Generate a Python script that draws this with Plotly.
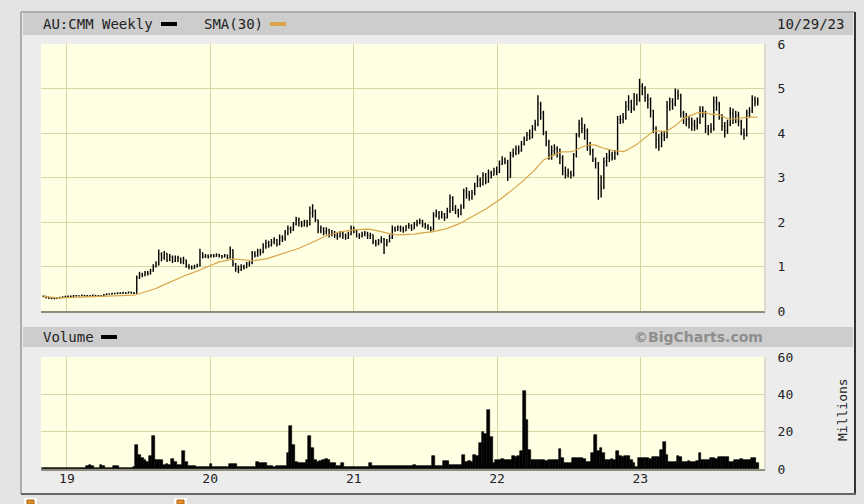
import plotly.graph_objects as go
import pandas as pd

# Weekly bars, AU:CMM, Nov 2018 - Oct 2023
week_start = "2018-11-02"

close = [
    0.33, 0.31, 0.29, 0.28, 0.28, 0.29, 0.30, 0.31, 0.32, 0.33,
    0.33, 0.34, 0.34, 0.34, 0.35, 0.34, 0.34, 0.34, 0.35, 0.33,
    0.34, 0.33, 0.36, 0.38, 0.38, 0.39, 0.39, 0.40, 0.40, 0.41,
    0.40, 0.42, 0.41, 0.40, 0.75, 0.82, 0.80, 0.86, 0.84, 0.90,
    1.00, 1.05, 1.28, 1.20, 1.30, 1.15, 1.22, 1.12, 1.20, 1.18,
    1.10, 1.15, 1.00, 0.98, 0.96, 1.00, 1.02, 1.30, 1.22, 1.24,
    1.22, 1.25, 1.23, 1.27, 1.24, 1.22, 1.25, 1.20, 1.38, 1.05,
    0.95, 0.92, 1.00, 0.98, 1.05, 1.08, 1.30, 1.25, 1.35, 1.32,
    1.45, 1.52, 1.48, 1.55, 1.60, 1.50, 1.65, 1.62, 1.75, 1.85,
    1.82, 1.95, 2.05, 1.98, 1.92, 2.00, 1.95, 2.20, 2.25, 2.05,
    1.80, 1.85, 1.78, 1.82, 1.72, 1.75, 1.70, 1.68, 1.75, 1.70,
    1.65, 1.72, 1.85, 1.80, 1.70, 1.68, 1.72, 1.75, 1.70, 1.72,
    1.55, 1.52, 1.58, 1.62, 1.50, 1.55, 1.65, 1.85, 1.82, 1.88,
    1.85, 1.80, 1.88, 1.92, 1.85, 1.95, 1.98, 2.02, 1.95, 1.90,
    1.88, 1.82, 2.15, 2.20, 2.12, 2.18, 2.10, 2.25, 2.55, 2.30,
    2.25, 2.18, 2.32, 2.70, 2.60, 2.55, 2.65, 2.80, 2.95, 2.85,
    3.05, 2.90, 3.10, 3.05, 3.15, 3.12, 3.30, 3.40, 3.35, 3.00,
    3.50, 3.55, 3.65, 3.60, 3.75, 3.85, 3.95, 3.90, 4.10, 4.20,
    4.65, 4.45, 4.00, 3.80, 3.50, 3.60, 3.65, 3.55, 3.45, 3.15,
    3.05, 3.10, 3.05, 3.50, 3.95, 4.20, 4.10, 4.05, 3.70, 3.60,
    3.40, 3.30, 2.80, 2.75, 3.35, 3.45, 3.50, 3.45, 3.55, 4.30,
    4.30, 4.35, 4.60, 4.70, 4.55, 4.80, 4.75, 5.05, 5.00, 4.80,
    4.75, 4.50, 4.10, 3.85, 3.70, 3.95, 3.90, 4.60, 4.70, 4.65,
    4.90, 4.85, 4.45, 4.35, 4.30, 4.25, 4.20, 4.15, 4.25, 4.50,
    4.45, 4.10, 4.05, 4.10, 4.70, 4.65, 4.40, 4.15, 4.05, 4.20,
    4.45, 4.30, 4.40, 4.25, 4.00, 3.95, 4.45, 4.50, 4.75, 4.70,
    4.72,
]

high = [
    0.35, 0.33, 0.31, 0.30, 0.30, 0.31, 0.32, 0.33, 0.34, 0.35,
    0.35, 0.36, 0.36, 0.35, 0.37, 0.36, 0.36, 0.36, 0.37, 0.36,
    0.36, 0.36, 0.38, 0.40, 0.40, 0.41, 0.41, 0.42, 0.42, 0.43,
    0.42, 0.44, 0.43, 0.42, 0.80, 0.88, 0.86, 0.90, 0.90, 0.95,
    1.05, 1.12, 1.38, 1.32, 1.35, 1.30, 1.28, 1.25, 1.25, 1.24,
    1.20, 1.22, 1.15, 1.05, 1.02, 1.04, 1.06, 1.40, 1.32, 1.28,
    1.27, 1.28, 1.28, 1.30, 1.28, 1.26, 1.28, 1.27, 1.45, 1.38,
    1.08, 1.02, 1.05, 1.04, 1.10, 1.12, 1.35, 1.34, 1.40, 1.40,
    1.52, 1.60, 1.58, 1.62, 1.66, 1.62, 1.72, 1.70, 1.82, 1.92,
    1.90, 2.00, 2.12, 2.10, 2.02, 2.05, 2.05, 2.35, 2.40, 2.28,
    2.05, 1.92, 1.88, 1.88, 1.85, 1.82, 1.80, 1.76, 1.80, 1.80,
    1.74, 1.78, 1.92, 1.90, 1.82, 1.75, 1.78, 1.80, 1.78, 1.76,
    1.72, 1.60, 1.62, 1.68, 1.64, 1.62, 1.72, 1.92, 1.90, 1.92,
    1.92, 1.90, 1.93, 1.98, 1.95, 2.00, 2.05, 2.08, 2.05, 1.98,
    1.95, 1.90, 2.22, 2.28, 2.25, 2.25, 2.20, 2.32, 2.62, 2.58,
    2.38, 2.30, 2.40, 2.75, 2.78, 2.70, 2.72, 2.88, 3.05, 3.00,
    3.12, 3.10, 3.18, 3.15, 3.22, 3.25, 3.38, 3.48, 3.45, 3.40,
    3.58, 3.65, 3.72, 3.72, 3.82, 3.92, 4.02, 4.08, 4.18, 4.30,
    4.85, 4.70, 4.50, 4.05, 3.85, 3.72, 3.75, 3.70, 3.65, 3.50,
    3.25, 3.20, 3.15, 3.55, 4.00, 4.30, 4.35, 4.20, 4.10, 3.80,
    3.65, 3.45, 3.35, 3.05, 3.45, 3.55, 3.62, 3.58, 3.62, 4.38,
    4.40, 4.45, 4.72, 4.85, 4.75, 4.90, 4.88, 5.22, 5.12, 5.05,
    4.88, 4.80, 4.52, 4.15, 3.98, 4.05, 4.05, 4.72, 4.80, 4.78,
    5.00, 4.98, 4.88, 4.50, 4.45, 4.38, 4.35, 4.30, 4.35, 4.60,
    4.60, 4.50, 4.18, 4.22, 4.82, 4.82, 4.70, 4.42, 4.25, 4.30,
    4.58, 4.55, 4.50, 4.48, 4.30, 4.10, 4.52, 4.58, 4.85, 4.82,
    4.80,
]

low = [
    0.31, 0.28, 0.27, 0.27, 0.27, 0.28, 0.29, 0.30, 0.31, 0.32,
    0.32, 0.32, 0.33, 0.33, 0.33, 0.33, 0.32, 0.33, 0.33, 0.32,
    0.32, 0.32, 0.33, 0.36, 0.37, 0.37, 0.38, 0.38, 0.39, 0.39,
    0.39, 0.40, 0.39, 0.38, 0.40, 0.72, 0.76, 0.78, 0.80, 0.82,
    0.88, 0.98, 1.02, 1.12, 1.15, 1.10, 1.12, 1.08, 1.10, 1.10,
    1.06, 1.05, 0.97, 0.94, 0.93, 0.95, 0.98, 1.00, 1.18, 1.19,
    1.18, 1.20, 1.20, 1.22, 1.20, 1.18, 1.20, 1.17, 1.18, 1.00,
    0.88, 0.85, 0.90, 0.93, 0.96, 1.00, 1.05, 1.20, 1.22, 1.25,
    1.30, 1.40, 1.42, 1.45, 1.50, 1.45, 1.48, 1.55, 1.58, 1.70,
    1.75, 1.80, 1.92, 1.90, 1.88, 1.90, 1.88, 1.92, 2.10, 2.00,
    1.75, 1.75, 1.70, 1.72, 1.65, 1.68, 1.64, 1.60, 1.65, 1.62,
    1.60, 1.62, 1.70, 1.75, 1.65, 1.62, 1.65, 1.68, 1.62, 1.62,
    1.50, 1.45, 1.48, 1.52, 1.28, 1.45, 1.55, 1.62, 1.78, 1.80,
    1.78, 1.76, 1.80, 1.85, 1.80, 1.85, 1.90, 1.95, 1.88, 1.85,
    1.82, 1.78, 1.82, 2.10, 2.05, 2.08, 2.03, 2.08, 2.20, 2.25,
    2.18, 2.10, 2.15, 2.30, 2.52, 2.48, 2.50, 2.60, 2.78, 2.78,
    2.82, 2.85, 2.88, 2.98, 3.05, 3.05, 3.10, 3.28, 3.30, 2.92,
    3.00, 3.45, 3.50, 3.52, 3.58, 3.72, 3.82, 3.85, 3.88, 4.05,
    4.15, 4.30, 3.95, 3.70, 3.40, 3.40, 3.50, 3.45, 3.30, 3.05,
    2.98, 3.00, 2.98, 3.02, 3.45, 3.90, 4.00, 3.85, 3.60, 3.50,
    3.35, 3.20, 2.50, 2.55, 2.75, 3.25, 3.35, 3.38, 3.40, 3.50,
    4.20, 4.22, 4.30, 4.50, 4.45, 4.50, 4.62, 4.70, 4.85, 4.70,
    4.55, 4.35, 4.00, 3.65, 3.60, 3.68, 3.82, 3.88, 4.50, 4.52,
    4.60, 4.75, 4.35, 4.20, 4.15, 4.10, 4.05, 4.05, 4.08, 4.20,
    4.35, 4.00, 3.95, 4.00, 4.05, 4.50, 4.30, 4.05, 3.90, 3.98,
    4.15, 4.20, 4.22, 4.15, 3.95, 3.85, 3.92, 4.35, 4.45, 4.60,
    4.62,
]

# weekly volume, millions
volume = [
    0.5, 0.4, 0.5, 0.4, 0.6, 0.5, 0.4, 0.5, 0.6, 0.5,
    0.4, 0.5, 0.5, 0.6, 0.5, 0.4, 1.8, 2.4, 1.5, 0.6,
    0.8, 2.0, 1.8, 0.5, 0.6, 0.7, 1.4, 1.5, 0.6, 0.5,
    0.5, 0.5, 0.6, 1.0, 13.0, 7.6, 5.8, 5.0, 4.0, 6.7,
    17.7, 5.0, 5.0, 4.6, 2.3, 2.5, 2.2, 5.3, 4.0, 2.3,
    2.4, 9.4, 4.0, 1.8, 1.8, 1.6, 1.0, 1.0, 1.0, 1.0,
    1.2, 2.8, 1.0, 1.0, 0.9, 1.0, 1.1, 1.0, 2.8, 2.6,
    2.8, 1.0, 1.0, 1.1, 1.0, 0.9, 1.0, 1.2, 4.0, 3.2,
    3.0, 3.2, 1.4, 1.4, 1.3, 1.4, 1.5, 1.4, 1.6, 8.5,
    23.0, 13.0, 4.0, 3.2, 3.0, 3.2, 5.0, 17.7, 11.0, 5.0,
    4.0, 4.2, 5.0, 5.2, 5.0, 3.2, 3.0, 1.4, 1.6, 3.2,
    1.0, 1.0, 0.9, 1.0, 1.1, 1.0, 1.0, 0.9, 1.0, 3.2,
    1.4, 1.8, 1.8, 1.6, 1.8, 1.4, 1.4, 1.5, 1.4, 1.4,
    1.8, 1.8, 1.7, 1.8, 1.8, 1.9, 1.8, 1.7, 1.8, 1.8,
    1.8, 1.8, 6.7, 1.4, 1.4, 1.4, 4.4, 4.2, 2.3, 2.3,
    2.3, 2.2, 2.3, 7.6, 4.0, 4.2, 4.0, 7.6, 7.2, 13.8,
    20.0, 19.0, 31.5, 17.3, 3.2, 5.0, 5.0, 5.2, 4.8, 5.0,
    5.0, 6.7, 6.5, 6.7, 9.4, 42.0, 26.0, 10.0, 5.0, 5.0,
    4.6, 4.8, 4.6, 4.4, 4.6, 4.6, 4.8, 4.6, 10.6, 5.8,
    3.2, 3.2, 3.0, 5.8, 5.8, 6.0, 5.8, 5.6, 4.0, 4.0,
    8.5, 18.0, 9.4, 11.0, 8.5, 5.0, 5.0, 5.2, 5.0, 9.4,
    6.7, 6.5, 6.7, 6.7, 5.0, 3.2, 1.0, 5.8, 5.8, 6.0,
    5.8, 5.6, 6.4, 6.4, 6.2, 10.0, 14.7, 7.6, 4.0, 4.0,
    4.0, 6.7, 6.5, 4.0, 4.0, 4.2, 4.0, 4.0, 4.2, 8.5,
    5.0, 5.0, 5.0, 5.8, 5.8, 5.6, 6.4, 6.4, 6.2, 6.4,
    4.0, 4.0, 5.0, 5.0, 5.2, 5.0, 5.0, 5.0, 5.8, 5.8,
    3.2,
]

year_ticks = ["2019-01-01", "2020-01-01", "2021-01-01", "2022-01-01", "2023-01-01"]
year_labels = ["19", "20", "21", "22", "23"]
price_ticks = [0, 1, 2, 3, 4, 5, 6]
volume_ticks = [0, 20, 40, 60]

df = pd.DataFrame({"close": close, "high": high, "low": low, "volume": volume})
df["date"] = pd.date_range(week_start, periods=len(df), freq="7D")
df["open"] = df["close"].shift(1).fillna(df["close"].iloc[0])
df["sma"] = df["close"].rolling(30, min_periods=1).mean()

W, H = 864, 504
def px(x):
    return x / W
def py(y):
    return 1 - y / H

MONO = "DejaVu Sans Mono"
GRID = "#d6d6a2"
PLOT_BG = "#ffffe4"
SMA_COL = "#d9a548"
PAGE = "#e3e3e3"

fig = go.Figure()

fig.add_trace(go.Ohlc(
    x=df["date"], open=df["open"], high=df["high"], low=df["low"], close=df["close"],
    increasing=dict(line=dict(color="black", width=1.4)),
    decreasing=dict(line=dict(color="black", width=1.4)),
    tickwidth=0.3, showlegend=False, hoverinfo="skip",
    xaxis="x", yaxis="y"))

fig.add_trace(go.Scatter(
    x=df["date"], y=df["sma"], mode="lines",
    line=dict(color=SMA_COL, width=1.2), showlegend=False, hoverinfo="skip",
    xaxis="x", yaxis="y"))

fig.add_trace(go.Bar(
    x=df["date"], y=df["volume"], marker=dict(color="black", line=dict(color="black", width=0.6)),
    width=7 * 24 * 3600 * 1000, showlegend=False, hoverinfo="skip",
    xaxis="x2", yaxis="y2"))

x_range = ["2018-10-27", "2023-11-12"]
xdom = [px(41), px(764)]

common_x = dict(type="date", range=x_range, domain=xdom, tickvals=year_ticks,
                showgrid=True, gridcolor=GRID, gridwidth=1, zeroline=False,
                showline=False, ticks="", fixedrange=True, automargin=False)
common_y = dict(side="right", showgrid=True, gridcolor=GRID, gridwidth=1,
                zeroline=False, showline=False, ticks="outside", ticklen=10,
                tickcolor="rgba(0,0,0,0)", fixedrange=True, automargin=False,
                tickfont=dict(family=MONO, size=13, color="#222"))

fig.update_layout(
    width=W, height=H,
    margin=dict(l=0, r=0, t=0, b=0, pad=0),
    paper_bgcolor="#ececec",
    plot_bgcolor=PLOT_BG,
    bargap=0,
    xaxis=dict(common_x, anchor="y", showticklabels=False, rangeslider=dict(visible=False)),
    yaxis=dict(common_y, domain=[py(311), py(44)], range=[0, 6], tickvals=price_ticks),
    xaxis2=dict(common_x, anchor="y2", matches="x", showticklabels=True, ticktext=year_labels,
                tickfont=dict(family=MONO, size=13, color="#222")),
    yaxis2=dict(common_y, domain=[py(469), py(357)], range=[0, 60], tickvals=volume_ticks),
)

shapes = [
    # page around the chart panel
    dict(type="rect", x0=0, x1=864, y0=12, y1=0, fillcolor=PAGE, line=dict(width=0), layer="below"),
    dict(type="rect", x0=0, x1=864, y0=504, y1=494, fillcolor=PAGE, line=dict(width=0), layer="below"),
    dict(type="rect", x0=0, x1=21, y0=504, y1=0, fillcolor=PAGE, line=dict(width=0), layer="below"),
    dict(type="rect", x0=856, x1=864, y0=504, y1=0, fillcolor=PAGE, line=dict(width=0), layer="below"),
    # panel border
    dict(type="line", x0=21, x1=21, y0=494, y1=12, line=dict(color="#9a9a9a", width=1.5), layer="below"),
    dict(type="line", x0=21, x1=855, y0=12, y1=12, line=dict(color="#9a9a9a", width=1.5), layer="below"),
    dict(type="line", x0=855, x1=855, y0=494, y1=12, line=dict(color="#333333", width=2), layer="below"),
    dict(type="line", x0=21, x1=856, y0=494, y1=494, line=dict(color="#666666", width=2), layer="below"),
    # header bars
    dict(type="rect", x0=23, x1=853, y0=35, y1=13,
         fillcolor="#cdcdcd", line=dict(width=0), layer="below"),
    dict(type="rect", x0=23, x1=853, y0=347, y1=327,
         fillcolor="#cdcdcd", line=dict(width=0), layer="below"),
    # plot edges
    dict(type="line", x0=41, x1=765, y0=312, y1=312,
         line=dict(color="#8c8c7c", width=2)),
    dict(type="line", x0=41, x1=765, y0=470, y1=470,
         line=dict(color="#8c8c7c", width=2)),
    dict(type="line", x0=765, x1=765, y0=312, y1=44,
         line=dict(color="#c8c8b0", width=1)),
    dict(type="line", x0=765, x1=765, y0=470, y1=357,
         line=dict(color="#c8c8b0", width=1)),
    # legend swatches
    dict(type="rect", x0=161, x1=177, y0=26, y1=22,
         fillcolor="black", line=dict(width=0)),
    dict(type="rect", x0=270, x1=286, y0=26, y1=22,
         fillcolor=SMA_COL, line=dict(width=0)),
    dict(type="rect", x0=101, x1=117, y0=339, y1=335,
         fillcolor="black", line=dict(width=0)),
    # little icons at the foot of the page
    dict(type="rect", x0=24, x1=37, y0=504, y1=498,
         fillcolor="white", line=dict(width=0)),
    dict(type="rect", x0=27, x1=34, y0=504, y1=500,
         fillcolor="#e0902a", line=dict(color="#b06010", width=1)),
    dict(type="rect", x0=174, x1=187, y0=504, y1=498,
         fillcolor="white", line=dict(width=0)),
    dict(type="rect", x0=177, x1=184, y0=504, y1=500,
         fillcolor="#e0902a", line=dict(color="#b06010", width=1)),
]
for s in shapes:
    s.update(xref="paper", yref="paper",
             x0=px(s["x0"]), x1=px(s["x1"]), y0=py(s["y0"]), y1=py(s["y1"]))
fig.update_layout(shapes=shapes)

txt = dict(family=MONO, size=14, color="#222")
annotations = [
    dict(x=px(41), y=py(24), text="AU:CMM Weekly", xanchor="left", yanchor="middle", font=txt),
    dict(x=px(202), y=py(24), text="SMA(30)", xanchor="left", yanchor="middle", font=txt),
    dict(x=px(846), y=py(24), text="10/29/23", xanchor="right", yanchor="middle", font=txt),
    dict(x=px(41), y=py(337), text="Volume", xanchor="left", yanchor="middle", font=txt),
    dict(x=px(765), y=py(337), text="<b>©BigCharts.com</b>", xanchor="right", yanchor="middle",
         font=dict(family="DejaVu Sans", size=14, color="#8e8e8e")),
    dict(x=px(842), y=py(410), text="Millions", textangle=-90, xanchor="center", yanchor="middle",
         font=dict(family=MONO, size=13, color="#222")),
]
for a in annotations:
    a.update(xref="paper", yref="paper", showarrow=False)
fig.update_layout(annotations=annotations)

fig.write_html("out.html", config=dict(displayModeBar=False),
               post_script="document.body.style.margin='0';document.body.style.overflow='hidden';")
